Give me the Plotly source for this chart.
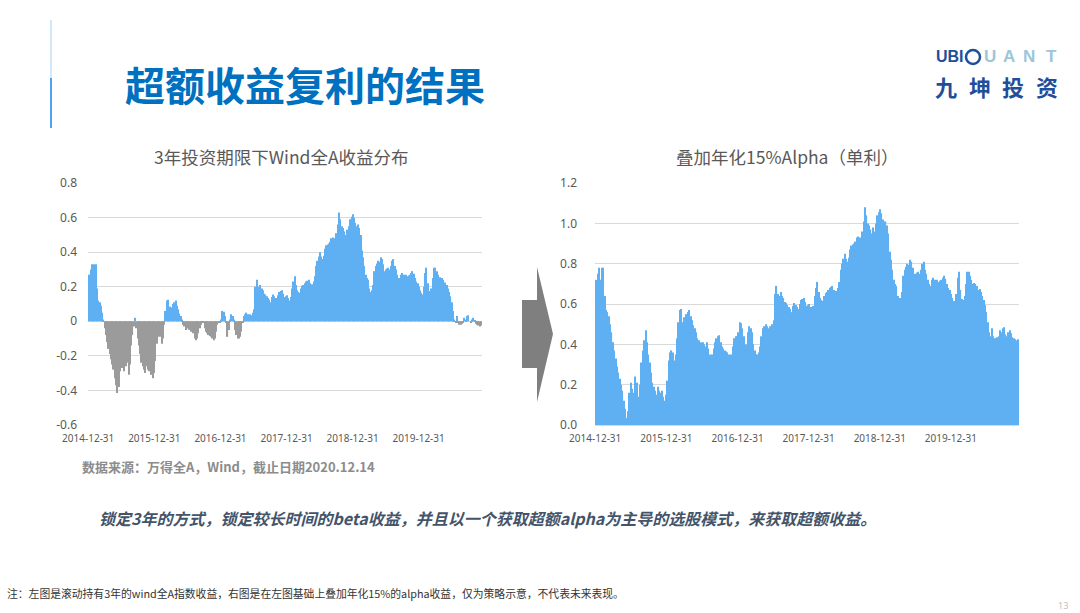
import pandas as pd
import plotly.graph_objects as go

W, H = 1080, 613

# ---- data ----
# weekly rolling 3-year holding return of Wind All-A, starting 2014-12-31
wind_3y_return = [
    0.26, 0.27, 0.30, 0.33, 0.27, 0.33, 0.33, 0.19, 0.12, 0.11,
    0.09, 0.05, 0.01, -0.04, -0.08, -0.12, -0.16, -0.19, -0.22, -0.25,
    -0.28, -0.33, -0.37, -0.415, -0.38, -0.29, -0.24, -0.27, -0.29, -0.21,
    -0.26, -0.24, -0.31, -0.25, -0.14, -0.08, -0.03, 0.02, -0.04, -0.10,
    -0.14, -0.19, -0.24, -0.26, -0.28, -0.30, -0.26, -0.28, -0.29, -0.28,
    -0.31, -0.33, -0.30, -0.23, -0.13, -0.09, -0.08, -0.09, -0.13, -0.10,
    -0.02, 0.06, 0.12, 0.125, 0.06, 0.085, 0.08, 0.10, 0.11, 0.12,
    0.09, 0.07, 0.045, 0.03, 0.01, -0.02, -0.03, -0.05, -0.04, -0.04,
    -0.05, -0.06, -0.04, -0.07, -0.10, -0.11, -0.10, -0.07, -0.04, -0.02,
    -0.01, -0.005, -0.04, -0.06, -0.07, -0.08, -0.085, -0.09, -0.10, -0.11,
    -0.10, -0.06, -0.02, -0.01, -0.01, 0.01, 0.06, 0.055, 0.03, -0.01,
    -0.09, -0.05, 0.01, 0.04, 0.03, 0.01, -0.05, -0.08, -0.10, -0.10,
    -0.09, -0.06, -0.01, 0.03, 0.04, 0.05, 0.04, 0.03, 0.04, 0.035,
    0.05, 0.07, 0.20, 0.24, 0.20, 0.19, 0.21, 0.19, 0.18, 0.16,
    0.155, 0.145, 0.135, 0.125, 0.11, 0.14, 0.155, 0.145, 0.135, 0.125,
    0.15, 0.17, 0.175, 0.18, 0.16, 0.14, 0.145, 0.15, 0.135, 0.12,
    0.14, 0.19, 0.23, 0.26, 0.21, 0.18, 0.17, 0.165, 0.19, 0.205,
    0.21, 0.22, 0.23, 0.235, 0.24, 0.22, 0.21, 0.215, 0.23, 0.26,
    0.32, 0.35, 0.375, 0.40, 0.375, 0.36, 0.38, 0.42, 0.44, 0.445,
    0.45, 0.46, 0.48, 0.485, 0.48, 0.46, 0.51, 0.56, 0.63, 0.59,
    0.55, 0.54, 0.52, 0.50, 0.53, 0.51, 0.55, 0.59, 0.605, 0.62,
    0.60, 0.57, 0.55, 0.56, 0.54, 0.50, 0.41, 0.37, 0.32, 0.27,
    0.25, 0.24, 0.19, 0.17, 0.18, 0.21, 0.29, 0.32, 0.335, 0.35,
    0.345, 0.37, 0.36, 0.33, 0.29, 0.30, 0.305, 0.31, 0.30, 0.32,
    0.35, 0.36, 0.32, 0.30, 0.27, 0.25, 0.24, 0.27, 0.28, 0.27,
    0.26, 0.27, 0.26, 0.265, 0.27, 0.28, 0.29, 0.275, 0.25, 0.23,
    0.22, 0.20, 0.18, 0.165, 0.155, 0.20, 0.28, 0.31, 0.22, 0.175,
    0.17, 0.19, 0.25, 0.31, 0.31, 0.29, 0.27, 0.25, 0.255, 0.25,
    0.24, 0.22, 0.225, 0.21, 0.19, 0.17, 0.145, 0.11, 0.06, 0.01,
    -0.01, 0.03, -0.01, -0.02, -0.02, -0.015, -0.01, 0.02, 0.01, 0.03,
    0.035, 0.0, -0.01, 0.01, 0.02, 0.005, -0.015, -0.02, -0.025, -0.03,
    -0.025,
]
series_start = "2014-12-31"
# 15% annual alpha, simple interest over 3 years (right chart title)
alpha_annual = 0.15
holding_years = 3

x_tick_dates = ["2014-12-31", "2015-12-31", "2016-12-31", "2017-12-31", "2018-12-31", "2019-12-31"]
x_tick_labels = ["2014-12-31", "2015-12-31", "2016-12-31", "2017-12-31", "2018-12-31", "2019-12-31"]
left_y_ticks = [-0.6, -0.4, -0.2, 0, 0.2, 0.4, 0.6, 0.8]
left_y_labels = ["-0.6", "-0.4", "-0.2", "0", "0.2", "0.4", "0.6", "0.8"]
right_y_ticks = [0, 0.2, 0.4, 0.6, 0.8, 1.0, 1.2]
right_y_labels = ["0.0", "0.2", "0.4", "0.6", "0.8", "1.0", "1.2"]

# ---- derived ----
dates = pd.date_range(series_start, periods=len(wind_3y_return), freq="7D")
with_alpha = [v + alpha_annual * holding_years for v in wind_3y_return]

BLUE = "#5EB0F2"
GREY = "#9B9B9B"
left_colors = [BLUE if v >= 0 else GREY for v in wind_3y_return]


def px(x):
    return x / W


def py(y):
    return 1 - y / H


fig = go.Figure()
fig.add_trace(go.Bar(x=dates, y=wind_3y_return, marker=dict(color=left_colors, line_width=0),
                     xaxis="x", yaxis="y", hoverinfo="skip"))
fig.add_trace(go.Bar(x=dates, y=with_alpha, marker=dict(color=BLUE, line_width=0),
                     xaxis="x2", yaxis="y2", hoverinfo="skip"))

tick_font = dict(family="Noto Sans, Noto Sans CJK SC", size=10, color="#595959")
ytick_font = dict(family="Noto Sans, Noto Sans CJK SC", size=12, color="#595959")
xrange = ["2014-12-30", "2020-12-15"]
ydom = [py(425), py(183)]

fig.update_layout(
    template="none",
    width=W, height=H,
    margin=dict(l=0, r=0, t=0, b=0, pad=0, autoexpand=False),
    paper_bgcolor="white", plot_bgcolor="white",
    showlegend=False, bargap=0.12,
    xaxis=dict(domain=[px(88), px(482)], type="date", range=xrange, anchor="y", automargin=False,
               tickvals=x_tick_dates, ticktext=x_tick_labels, tickangle=0,
               showgrid=False, zeroline=False, showline=False, ticks="",
               tickfont=tick_font, ticklabelstandoff=6),
    yaxis=dict(domain=ydom, range=[-0.6005, 0.8005], anchor="x", automargin=False,
               tickvals=left_y_ticks, ticktext=left_y_labels,
               showgrid=True, gridcolor="#D9D9D9", gridwidth=1,
               zeroline=True, zerolinecolor="#D9D9D9", zerolinewidth=1,
               showline=False, ticks="", tickfont=ytick_font, ticklabelstandoff=10),
    xaxis2=dict(domain=[px(595), px(1019)], type="date", range=xrange, anchor="y2", automargin=False,
                tickvals=x_tick_dates, ticktext=x_tick_labels, tickangle=0,
                showgrid=False, zeroline=False, showline=False, ticks="",
                tickfont=tick_font, ticklabelstandoff=6),
    yaxis2=dict(domain=ydom, range=[0, 1.2005], anchor="x2", automargin=False,
                tickvals=right_y_ticks, ticktext=right_y_labels,
                showgrid=True, gridcolor="#D9D9D9", gridwidth=1,
                zeroline=True, zerolinecolor="#D9D9D9", zerolinewidth=1,
                showline=False, ticks="", tickfont=ytick_font, ticklabelstandoff=17),
)

CJK = "Noto Sans CJK SC"
ann = []


def text(x, y, s, size, color, anchor="left", weight="normal", style="normal", family=CJK):
    ann.append(dict(x=px(x), y=py(y), xref="paper", yref="paper", text=s, showarrow=False,
                    xanchor=anchor, yanchor="middle",
                    font=dict(family=family, size=size, color=color, weight=weight, style=style)))


# header
text(123, 84, "超额收益复利的结果", 40, "#0070C0", weight="bold")
# logo
text(934, 57, "UBI", 16, "#1F4E9A", weight="bold", family="Liberation Sans")
for ch, cx in zip("UANT", [990, 1009, 1029, 1051]):
    text(cx, 57, ch, 17, "#9CC6DA", anchor="center", weight="bold", family="Liberation Sans")
for ch, cx in zip("九坤投资", [946, 980, 1013, 1047]):
    text(cx, 86, ch, 22, "#1F4E9A", anchor="center", weight="bold")
# chart titles
text(281, 157, "3年投资期限下Wind全A收益分布", 17.5, "#595959", anchor="center")
text(787, 157, "叠加年化15%Alpha（单利）", 17.5, "#595959", anchor="center")
# source & notes
text(80, 466, "数据来源：万得全A，Wind，截止日期2020.12.14", 13, "#8C8C8C", weight="bold")
text(97, 518, "锁定3年的方式，锁定较长时间的beta收益，并且以一个获取超额alpha为主导的选股模式，来获取超额收益。",
     16, "#44546A", weight="bold", style="italic")
text(5, 593, "注：左图是滚动持有3年的wind全A指数收益，右图是在左图基础上叠加年化15%的alpha收益，仅为策略示意，不代表未来表现。",
     10.8, "#333333")
text(1063, 605, "13", 9, "#BFBFBF", anchor="center", family="Noto Sans")

shapes = [
    dict(type="line", xref="paper", yref="paper", x0=px(51), x1=px(51), y0=py(20), y1=py(78),
         line=dict(color="#A6D3F5", width=1)),
    dict(type="line", xref="paper", yref="paper", x0=px(51), x1=px(51), y0=py(78), y1=py(128),
         line=dict(color="#4DA3EE", width=2)),
    dict(type="circle", xref="paper", yref="paper", x0=px(966), x1=px(980), y0=py(64), y1=py(50),
         line=dict(color="#1F4E9A", width=2.5)),
    dict(type="path", xref="paper", yref="paper",
         path="M {} {} L {} {} L {} {} L {} {} L {} {} L {} {} L {} {} Z".format(
             px(522), py(300), px(537), py(300), px(537), py(267), px(553), py(334),
             px(537), py(402), px(537), py(368), px(522), py(368)),
         fillcolor="#7F7F7F", line=dict(width=0)),
]

fig.update_layout(annotations=ann, shapes=shapes)
fig.write_html("out.html", config={"displayModeBar": False},
               post_script="document.body.style.margin='0';")
